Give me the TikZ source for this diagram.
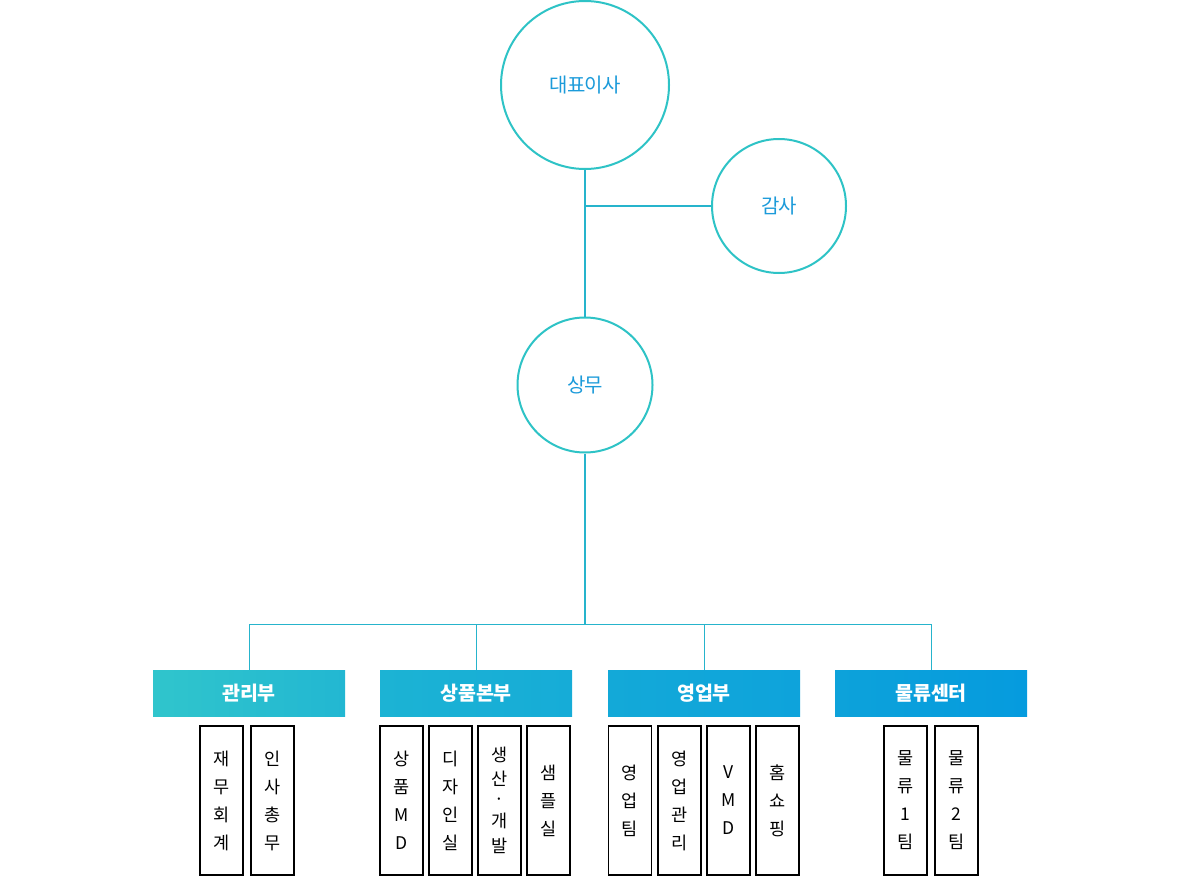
\documentclass[tikz,border=0pt]{standalone}
\usepackage{fontspec}
\setmainfont{Noto Sans CJK KR}
\newfontfamily\tightfont[LetterSpace=-4]{Noto Sans CJK KR}
\usetikzlibrary{calc}
\definecolor{ring}{HTML}{2EC3C6}
\definecolor{link}{HTML}{26B4CC}
\definecolor{ctext}{HTML}{1C9BDA}
\definecolor{gA}{HTML}{30C5CC}
\definecolor{gB}{HTML}{22B7D2}
\definecolor{gC}{HTML}{1CB3D4}
\definecolor{gD}{HTML}{16ACD7}
\definecolor{gE}{HTML}{13A9D8}
\definecolor{gF}{HTML}{0EA3DB}
\definecolor{gG}{HTML}{0DA2DA}
\definecolor{gH}{HTML}{059BDE}
\tikzset{
  circ/.style={circle, draw=ring, line width=2pt, fill=white, inner sep=0pt, text=ctext, font=\tightfont\fontsize{20}{22}\selectfont},
  dept/.style={rectangle, minimum width=192pt, minimum height=46pt, inner sep=0pt, text=white, font=\bfseries\fontsize{19.5}{22}\selectfont},
  sub/.style={rectangle, draw=black, line width=1.1pt, minimum width=43pt, minimum height=149pt, inner sep=0pt, align=center, font=\fontsize{17.5}{28}\selectfont},
  thick link/.style={draw=link, line width=2pt},
  thin link/.style={draw=link, line width=1pt},
}
\begin{document}
\begin{tikzpicture}[x=1pt,y=-1pt]
\useasboundingbox (0,0) rectangle (1180,880);
\node[circ, minimum size=168pt] (ceo) at (585,85) {대표이사};
\node[circ, minimum size=134pt] (audit) at (779,206) {감사};
\node[circ, minimum size=135pt] (sangmu) at (585,385) {상무};
\coordinate (bus) at (585,624);
\draw[thick link] (ceo.south) -- (sangmu.north);
\draw[thick link] (audit.west) -- (audit.west -| ceo.south);
\draw[thick link] (sangmu.south) -- (bus);

\node[dept, left color=gA, right color=gB] (d1) at (249,693) {관리부};
\node[dept, left color=gC, right color=gD] (d2) at (476,693) {상품본부};
\node[dept, left color=gE, right color=gF] (d3) at (704,693) {영업부};
\node[dept, left color=gG, right color=gH] (d4) at (931,693) {물류센터};

\draw[thin link] (d1.north) -- (d1.north |- bus) -- (d4.north |- bus) -- (d4.north);
\draw[thin link] (d2.north) -- (d2.north |- bus);
\draw[thin link] (d3.north) -- (d3.north |- bus);

\node[sub] (s11) at (221.5,800.5) {재\\무\\회\\계};
\node[sub] (s12) at (272.5,800.5) {인\\사\\총\\무};

\node[sub] (s21) at (401.5,800.5) {상\\품\\M\\D};
\node[sub] (s22) at (450.5,800.5) {디\\자\\인\\실};
\node[sub] (s23) at (499.5,800.5) {생\\[-4pt]산\\[-8pt]·\\[-6pt]개\\[-3pt]발};
\node[sub] (s24) at (548.5,800.5) {샘\\플\\실};

\node[sub] (s31) at (630,800.5) {영\\업\\팀};
\node[sub] (s32) at (679.5,800.5) {영\\업\\관\\리};
\node[sub] (s33) at (728.5,800.5) {V\\M\\D};
\node[sub] (s34) at (777.5,800.5) {홈\\쇼\\핑};

\node[sub] (s41) at (905.5,800.5) {물\\류\\1\\팀};
\node[sub] (s42) at (956.5,800.5) {물\\류\\2\\팀};
\end{tikzpicture}
\end{document}
